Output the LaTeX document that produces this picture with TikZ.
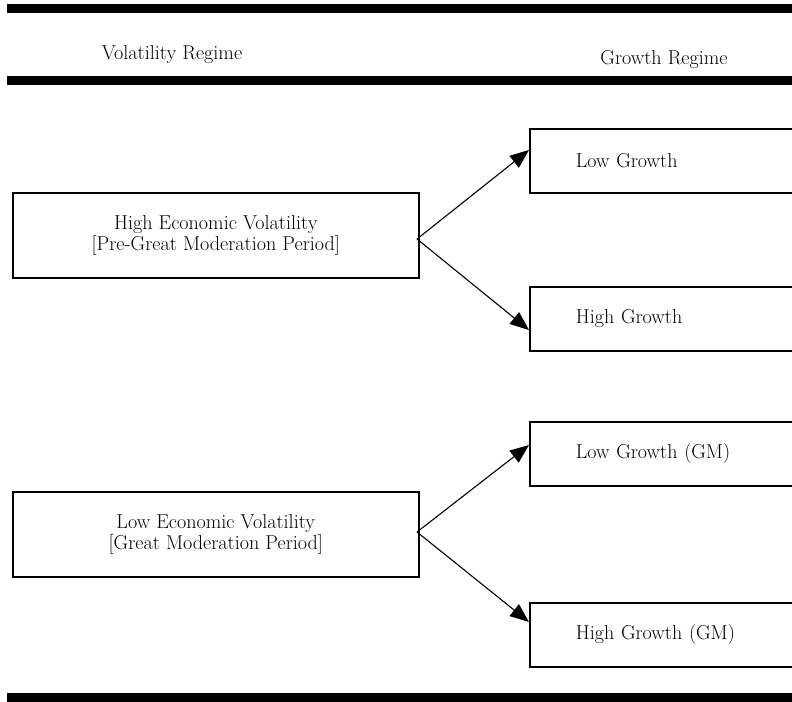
\documentclass[tikz,border=0pt]{standalone}
\usetikzlibrary{arrows.meta}
\begin{document}
\begin{tikzpicture}[x=1bp,y=-1bp,
  every node/.style={font=\fontsize{20.2}{21.5}\selectfont},
  lbox/.style={draw, line width=1.6bp, minimum width=406bp, minimum height=85bp, align=center, anchor=north west, inner sep=0pt},
  rbox/.style={draw, line width=1.6bp, minimum height=64bp, text width=183bp, inner xsep=46bp, inner ysep=0pt, align=left, anchor=north west},
  hdr/.style={anchor=base, inner sep=0pt},
  arr/.style={line width=1.1bp, -{Triangle[length=19bp,width=15bp]}}]
\useasboundingbox (0,0) rectangle (792,702);
% horizontal rules
\fill (7,4) rectangle (800,13);
\fill (7,76) rectangle (800,85);
\fill (7,693) rectangle (800,710);
% headers
\node[hdr] (hvol) at (172,60) {Volatility Regime};
\node[hdr] (hgro) at (664,65) {Growth Regime};
% left boxes
\node[lbox] (hev) at (12,192) {High Economic Volatility\\{}[Pre-Great Moderation Period]};
\node[lbox] (lev) at (12,491) {Low Economic Volatility\\{}[Great Moderation Period]};
% right boxes
\node[rbox] (lg) at (529,128) {Low Growth};
\node[rbox] (hg) at (529,286) {High Growth};
\node[rbox] (lggm) at (529,421) {Low Growth (GM)};
\node[rbox] (hggm) at (529,602) {High Growth (GM)};
% arrow endpoints
\coordinate (o1) at (417,239);
\coordinate (t1) at (529,150);
\coordinate (t2) at (529,330);
\coordinate (o2) at (417,532);
\coordinate (t3) at (529,445);
\coordinate (t4) at (529,622);
\draw[arr] (o1) -- (t1);
\draw[arr] (o1) -- (t2);
\draw[arr] (o2) -- (t3);
\draw[arr] (o2) -- (t4);
\end{tikzpicture}
\end{document}
